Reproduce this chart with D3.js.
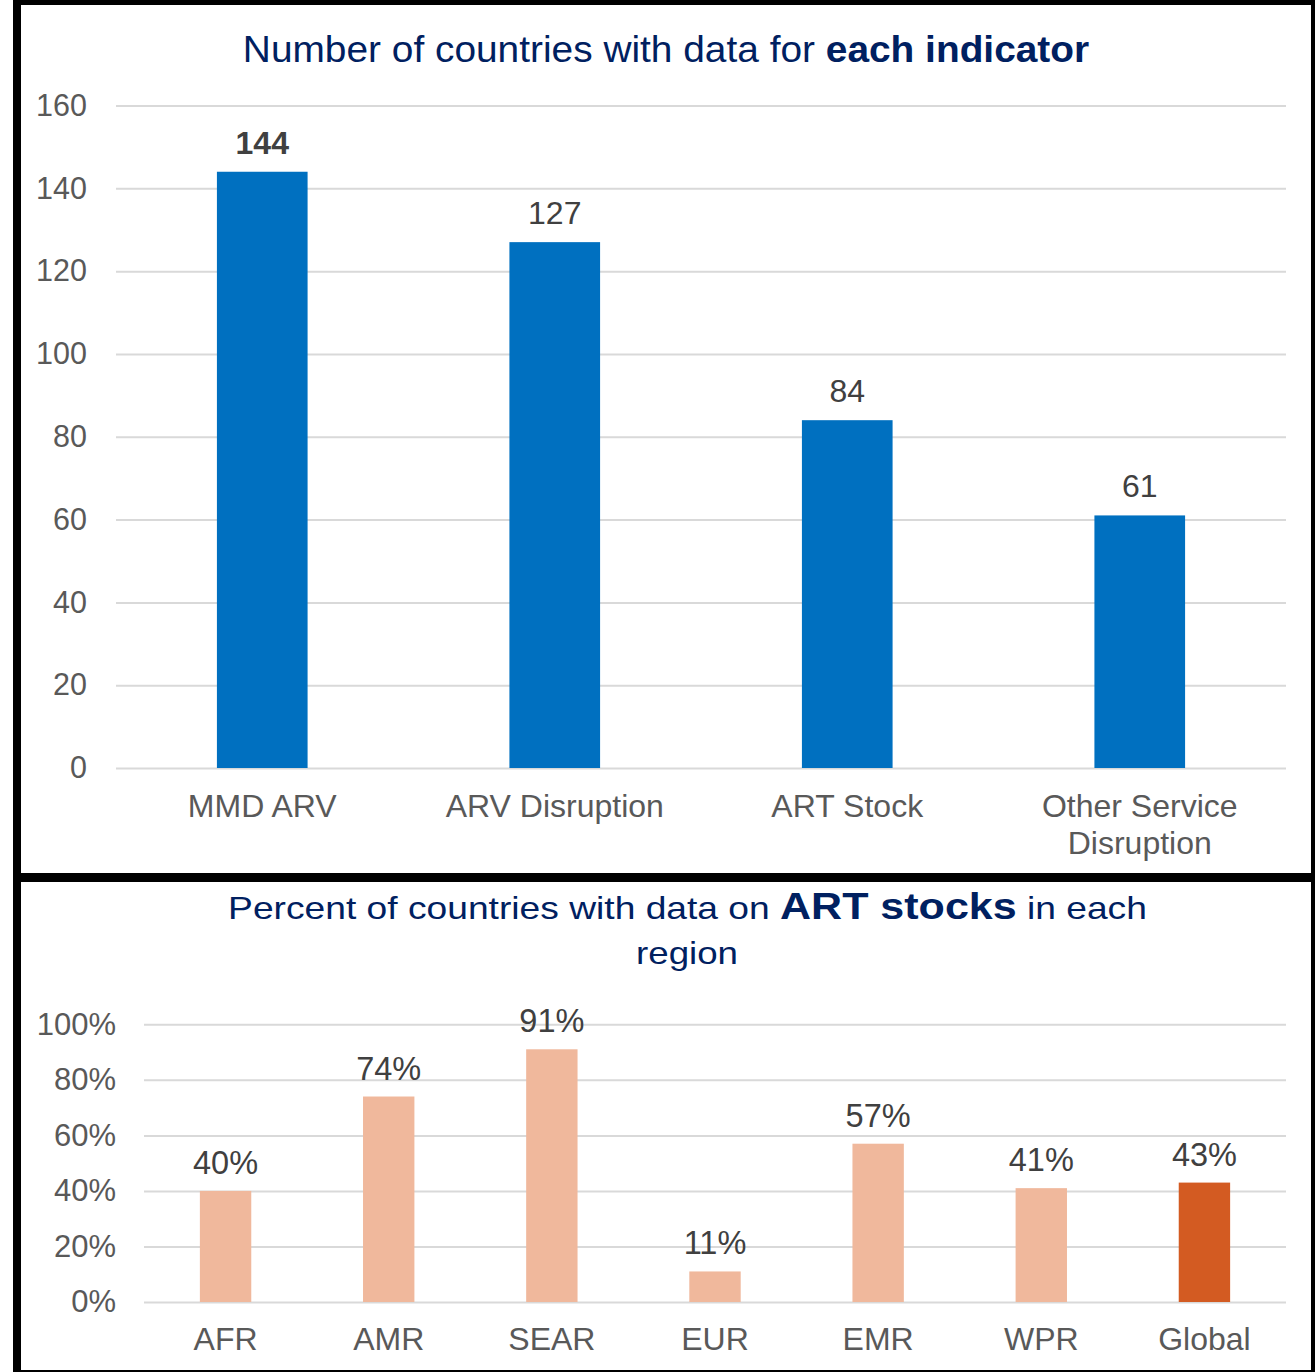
<!DOCTYPE html>
<html>
<head>
<meta charset="utf-8">
<script src="https://cdn.jsdelivr.net/npm/d3@7"></script>
<style>
html,body{margin:0;padding:0;background:#fff;}
svg{display:block;font-family:"Liberation Sans",Arial,sans-serif;}
</style>
</head>
<body>
<svg id="chart" width="1315" height="1372"></svg>
<script>
// ---- Data ----
const indicatorCategories = ["MMD ARV", "ARV Disruption", "ART Stock", "Other Service Disruption"];
const indicatorValues = [144, 127, 84, 61];
const indicatorTicks = [0, 20, 40, 60, 80, 100, 120, 140, 160];

const regionCategories = ["AFR", "AMR", "SEAR", "EUR", "EMR", "WPR", "Global"];
const regionValues = [0.40, 0.74, 0.91, 0.11, 0.57, 0.41, 0.43];
const regionTicks = [0, 0.2, 0.4, 0.6, 0.8, 1.0];

// ---- Styles ----
const blue = "#0070C0", peach = "#F0B89C", orange = "#D35B22";
const navy = "#002060", tickGray = "#595959", labelGray = "#404040", gridGray = "#D9D9D9";

const svg = d3.select("#chart");

// stretch a centred text horizontally to a target width (reference text is slightly wide)
function fitWidth(sel, cx, targetW) {
  sel.attr("x", 0).attr("text-anchor", "middle");
  const w = sel.node().getBBox().width;
  sel.attr("transform", `translate(${cx},0) scale(${targetW / w},1)`);
}

// Panel borders
svg.append("rect").attr("x", 0).attr("y", 0).attr("width", 1315).attr("height", 1372).attr("fill", "#fff");
svg.append("rect").attr("x", 13).attr("y", 0).attr("width", 1302).attr("height", 1372).attr("fill", "#000");
svg.append("rect").attr("x", 21).attr("y", 5).attr("width", 1290).attr("height", 868).attr("fill", "#fff");
svg.append("rect").attr("x", 21).attr("y", 882).attr("width", 1290).attr("height", 488).attr("fill", "#fff");

// ================= TOP CHART =================
const gTop = svg.append("g");
const x1 = d3.scaleBand().domain(indicatorCategories).range([116, 1286]).paddingInner(0.69).paddingOuter(0.345);
const y1 = d3.scaleLinear().domain([0, 160]).range([768, 105.5]);

const yAxis1 = d3.axisLeft(y1).tickValues(indicatorTicks).tickSizeInner(-1170).tickSizeOuter(0).tickPadding(29);
const ga1 = gTop.append("g").attr("transform", "translate(116,0)").call(yAxis1);
ga1.select(".domain").remove();
ga1.selectAll(".tick line").attr("stroke", gridGray).attr("stroke-width", 2);
ga1.selectAll(".tick text").attr("fill", tickGray).attr("font-size", 30.5).attr("font-family", "Liberation Sans, Arial, sans-serif");

gTop.selectAll("rect.bar").data(indicatorValues).join("rect")
  .attr("class", "bar")
  .attr("x", (d, i) => x1(indicatorCategories[i]))
  .attr("width", x1.bandwidth())
  .attr("y", d => y1(d))
  .attr("height", d => y1(0) - y1(d))
  .attr("fill", blue);

gTop.selectAll("text.val").data(indicatorValues).join("text")
  .attr("class", "val")
  .attr("x", (d, i) => x1(indicatorCategories[i]) + x1.bandwidth() / 2)
  .attr("y", d => y1(d) - 18)
  .attr("text-anchor", "middle")
  .attr("font-size", 32)
  .attr("font-weight", (d, i) => i === 0 ? "bold" : "normal")
  .attr("fill", labelGray)
  .text(d => d);

// category labels (wrap "Other Service Disruption")
const catLines = { "Other Service Disruption": ["Other Service", "Disruption"] };
indicatorCategories.forEach(c => {
  const lines = catLines[c] || [c];
  const t = gTop.append("text")
    .attr("x", x1(c) + x1.bandwidth() / 2)
    .attr("y", 817)
    .attr("text-anchor", "middle")
    .attr("font-size", 32)
    .attr("fill", tickGray);
  lines.forEach((l, i) => {
    t.append("tspan").attr("x", x1(c) + x1.bandwidth() / 2).attr("dy", i === 0 ? 0 : 37).text(l);
  });
});

// title
const t1 = gTop.append("text").attr("y", 62).attr("font-size", 37.5).attr("fill", navy);
t1.append("tspan").text("Number of countries with data for ");
t1.append("tspan").attr("font-weight", "bold").text("each indicator");
fitWidth(t1, 666, 847);

// ================= BOTTOM CHART =================
const gBot = svg.append("g");
const x2 = d3.scaleBand().domain(regionCategories).range([144, 1286]).paddingInner(0.685).paddingOuter(0.3425);
const y2 = d3.scaleLinear().domain([0, 1]).range([1302, 1024.3]);

const yAxis2 = d3.axisLeft(y2).tickValues(regionTicks).tickFormat(d3.format(".0%"))
  .tickSizeInner(-1142).tickSizeOuter(0).tickPadding(28);
const ga2 = gBot.append("g").attr("transform", "translate(144,0)").call(yAxis2);
ga2.select(".domain").remove();
ga2.selectAll(".tick line").attr("stroke", gridGray).attr("stroke-width", 2);
ga2.selectAll(".tick text").attr("fill", tickGray).attr("font-size", 31).attr("font-family", "Liberation Sans, Arial, sans-serif");

gBot.selectAll("rect.bar").data(regionValues).join("rect")
  .attr("class", "bar")
  .attr("x", (d, i) => x2(regionCategories[i]))
  .attr("width", x2.bandwidth())
  .attr("y", d => y2(d))
  .attr("height", d => y2(0) - y2(d))
  .attr("fill", (d, i) => regionCategories[i] === "Global" ? orange : peach);

gBot.selectAll("text.val").data(regionValues).join("text")
  .attr("class", "val")
  .attr("x", (d, i) => x2(regionCategories[i]) + x2.bandwidth() / 2)
  .attr("y", d => y2(d) - 17)
  .attr("text-anchor", "middle")
  .attr("font-size", 32.5)
  .attr("fill", labelGray)
  .text(d => d3.format(".0%")(d));

gBot.selectAll("text.cat").data(regionCategories).join("text")
  .attr("class", "cat")
  .attr("x", d => x2(d) + x2.bandwidth() / 2)
  .attr("y", 1350)
  .attr("text-anchor", "middle")
  .attr("font-size", 32)
  .attr("fill", tickGray)
  .text(d => d);

const t2 = gBot.append("text").attr("y", 919).attr("font-size", 32).attr("fill", navy);
t2.append("tspan").text("Percent of countries with data on ");
t2.append("tspan").attr("font-weight", "bold").attr("font-size", 37).text("ART stocks");
t2.append("tspan").text(" in each");
fitWidth(t2, 687.5, 919);
const t3 = gBot.append("text").attr("y", 964).attr("font-size", 32).attr("fill", navy).text("region");
fitWidth(t3, 687, 102);
</script>
</body>
</html>
